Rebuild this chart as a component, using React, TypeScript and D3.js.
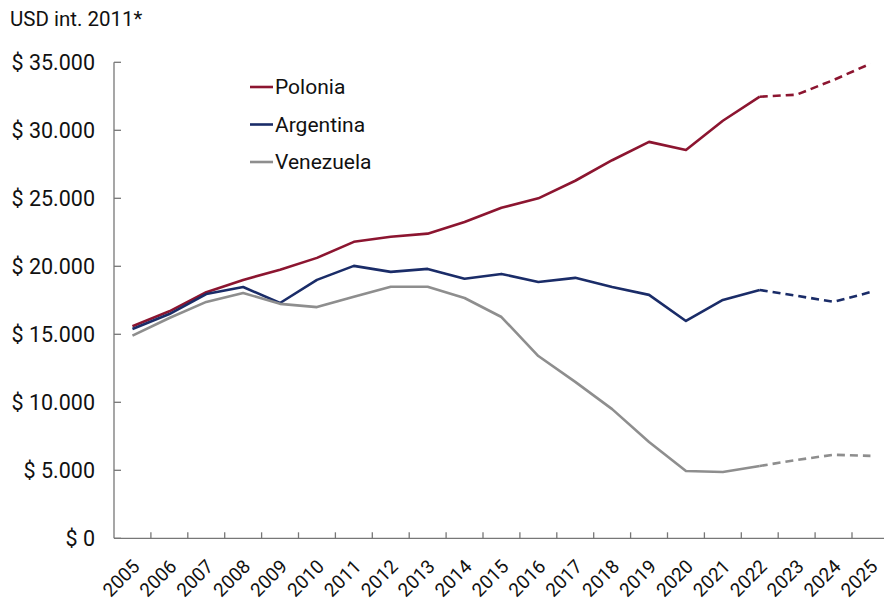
import React, { useEffect, useRef } from 'react';
import * as d3 from 'd3';

const years = [2005, 2006, 2007, 2008, 2009, 2010, 2011, 2012, 2013, 2014, 2015, 2016, 2017, 2018, 2019, 2020, 2021, 2022, 2023, 2024, 2025];
const polonia = [15590, 16690, 18090, 19000, 19740, 20620, 21800, 22170, 22400, 23260, 24300, 25000, 26290, 27800, 29150, 28550, 30700, 32470, 32620, 33700, 34900];
const argentina = [15390, 16490, 17960, 18480, 17300, 19000, 20030, 19590, 19810, 19080, 19440, 18850, 19150, 18480, 17900, 15980, 17530, 18260, 17830, 17390, 18100];
const venezuela = [14900, 16200, 17380, 18040, 17240, 17000, 17770, 18500, 18500, 17670, 16270, 13400, 11500, 9500, 7080, 4950, 4880, 5320, 5760, 6140, 6060];
const yTicks = [0, 5000, 10000, 15000, 20000, 25000, 30000, 35000];
const lastActual = 2022;

const series = [
  { name: 'Polonia', values: polonia, color: '#8c1530' },
  { name: 'Argentina', values: argentina, color: '#1a2c68' },
  { name: 'Venezuela', values: venezuela, color: '#8e8e8e' },
];

const W = 884;
const H = 603;

export default function App() {
  const svgRef = useRef<SVGSVGElement>(null);

  useEffect(() => {
    if (!svgRef.current) return;
    const svg = d3.select(svgRef.current);
    svg.selectAll('*').remove();

    const left = 114;
    const bottom = 538.3;
    const top = 62.3;
    const band = 36.9;

    const x = d3.scaleBand<number>().domain(years).range([left, left + band * years.length]);
    const y = d3.scaleLinear().domain([0, 35000]).range([bottom, top]);
    const font = 'Roboto, "Noto Sans", sans-serif';
    const axisColor = '#777';

    svg.append('text').attr('x', 10).attr('y', 26).text('USD int. 2011*')
      .attr('font-family', font).attr('font-size', 20.5).attr('fill', '#111');

    // y axis
    svg.append('line').attr('x1', left).attr('x2', left).attr('y1', top).attr('y2', bottom)
      .attr('stroke', axisColor).attr('stroke-width', 1.3);
    yTicks.forEach((t) => {
      svg.append('line').attr('x1', left).attr('x2', left + 7).attr('y1', y(t)).attr('y2', y(t))
        .attr('stroke', axisColor).attr('stroke-width', 1.3);
      svg.append('text').attr('x', 95).attr('y', y(t)).attr('dy', '0.35em')
        .attr('text-anchor', 'end').text('$ ' + d3.format(',')(t).replace(/,/g, '.'))
        .attr('font-family', font).attr('font-size', 21.5).attr('fill', '#111');
    });

    // x axis
    svg.append('line').attr('x1', left).attr('x2', W).attr('y1', bottom).attr('y2', bottom)
      .attr('stroke', axisColor).attr('stroke-width', 1.3);
    years.forEach((yr, i) => {
      if (i > 0) {
        const tx = x(yr)!;
        svg.append('line').attr('x1', tx).attr('x2', tx).attr('y1', bottom).attr('y2', bottom - 6)
          .attr('stroke', axisColor).attr('stroke-width', 1.3);
      }
      const cx = x(yr)! + x.bandwidth() / 2;
      svg.append('text')
        .attr('transform', `translate(${cx - 1},${bottom + 20}) rotate(-45)`)
        .attr('text-anchor', 'end').attr('dy', '0.7em')
        .text(String(yr))
        .attr('font-family', font).attr('font-size', 19).attr('fill', '#111');
    });

    const cxOf = (i: number) => x(years[i])! + x.bandwidth() / 2;
    const line = d3.line<number>().x((_, i) => cxOf(i)).y((d) => y(d));
    const split = years.indexOf(lastActual);

    series.forEach((s) => {
      const solid = s.values.slice(0, split + 1);
      svg.append('path').attr('d', line(solid)!).attr('fill', 'none')
        .attr('stroke', s.color).attr('stroke-width', 2.6).attr('stroke-linejoin', 'round');
      const dashedLine = d3.line<number>().x((_, i) => cxOf(i + split)).y((d) => y(d));
      svg.append('path').attr('d', dashedLine(s.values.slice(split))!).attr('fill', 'none')
        .attr('stroke', s.color).attr('stroke-width', 2.6).attr('stroke-dasharray', '8,5');
    });

    // legend
    series.forEach((s, i) => {
      const ly = 87 + i * 37.5;
      svg.append('line').attr('x1', 250).attr('x2', 273).attr('y1', ly).attr('y2', ly)
        .attr('stroke', s.color).attr('stroke-width', 2.6);
      svg.append('text').attr('x', 275).attr('y', ly).attr('dy', '0.35em').text(s.name)
        .attr('font-family', font).attr('font-size', 21).attr('fill', '#111');
    });
  }, []);

  return (
    <svg ref={svgRef} width={W} height={H} viewBox={`0 0 ${W} ${H}`}
      style={{ position: 'absolute', left: 0, top: 0, background: '#fff' }} />
  );
}
